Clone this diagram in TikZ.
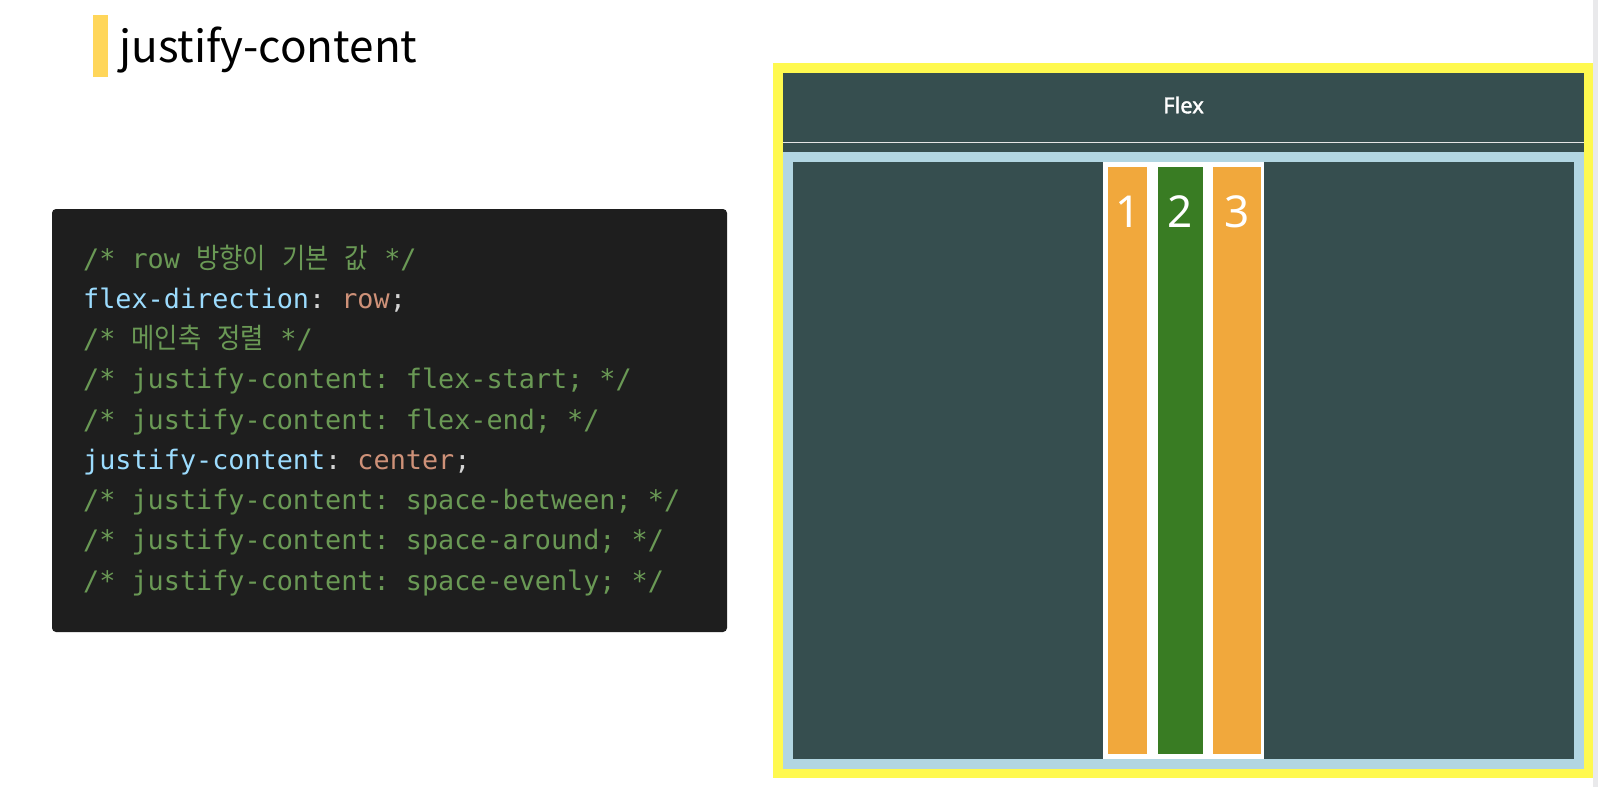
\documentclass[tikz,border=0pt]{standalone}
\usepackage{fontspec}
\setmainfont{Noto Sans}
\setmonofont{DejaVu Sans Mono}
\newfontfamily\krfont{Noto Sans CJK KR}
\newfontfamily\krmono[Scale=1.05,FakeStretch=0.9]{Noto Sans CJK KR}
\newfontfamily\headfont[FakeBold=1.6]{Noto Sans}
\usetikzlibrary{positioning}

\definecolor{panel}{HTML}{364E4F}
\definecolor{frame}{HTML}{FFF94F}
\definecolor{rowbg}{HTML}{B2D6E2}
\definecolor{itemorange}{HTML}{F1A83C}
\definecolor{itemgreen}{HTML}{397C23}
\definecolor{codebg}{HTML}{1E1E1E}
\definecolor{cmt}{HTML}{6A9955}
\definecolor{prop}{HTML}{9CDCFE}
\definecolor{val}{HTML}{CE9178}
\definecolor{punct}{HTML}{D4D4D4}
\definecolor{titlebar}{HTML}{FFD65A}
\definecolor{scroll}{HTML}{E9E9EB}

\newcommand{\hg}[1]{{\krmono #1}}

\begin{document}
\begin{tikzpicture}[x=1pt,y=-1pt,
    code line/.style={anchor=base west,inner sep=0pt,text=cmt,font=\ttfamily\fontsize{26.8}{30}\selectfont},
    item box/.style={anchor=north west,inner sep=0pt,minimum height=587pt},
    num/.style={text=white,inner sep=0pt,font=\fontsize{44}{44}\selectfont}]

    \useasboundingbox (0,0) rectangle (1598,787);
    \fill[white] (0,0) rectangle (1598,787);
    \fill[scroll] (1593,0) rectangle (1598,787);

    % title
    \fill[titlebar] (93,15) rectangle (108,77);
    \node[anchor=base west,inner sep=0pt,font=\krfont\fontsize{44}{44}\selectfont] (title) at (119,62) {justify-content};

    % code
    \fill[codebg,rounded corners=4pt] (52,209) rectangle (727,632);
    \node[code line] (l1) at (83,268) {/* row \hg{방향이} \hg{기본} \hg{값} */};
    \node[code line,below=40.25pt of l1.base west,anchor=base west] (l2) {{\color{prop}flex-direction}{\color{punct}: }{\color{val}row}{\color{punct};}};
    \node[code line,below=40.25pt of l2.base west,anchor=base west] (l3) {/* \hg{메인축} \hg{정렬} */};
    \node[code line,below=40.25pt of l3.base west,anchor=base west] (l4) {/* justify-content: flex-start; */};
    \node[code line,below=40.25pt of l4.base west,anchor=base west] (l5) {/* justify-content: flex-end; */};
    \node[code line,below=40.25pt of l5.base west,anchor=base west] (l6) {{\color{prop}justify-content}{\color{punct}: }{\color{val}center}{\color{punct};}};
    \node[code line,below=40.25pt of l6.base west,anchor=base west] (l7) {/* justify-content: space-between; */};
    \node[code line,below=40.25pt of l7.base west,anchor=base west] (l8) {/* justify-content: space-around; */};
    \node[code line,below=40.25pt of l8.base west,anchor=base west] (l9) {/* justify-content: space-evenly; */};

    % flex demo
    \fill[frame] (773,63) rectangle (1593,778);
    \fill[panel] (783,73) rectangle (1584,152);
    \draw[white!80!gray,line width=1.5pt] (783,142.5) -- (1584,142.5);
    \node[text=white,font=\headfont\fontsize{22}{22}\selectfont] (flex) at (1183.5,105) {Flex};
    \fill[rowbg] (783,152) rectangle (1584,769);
    \fill[panel] (793,162) rectangle (1574,759);
    \fill[white] (1103,162) rectangle (1264,759);

    \node[item box,fill=itemorange,minimum width=39pt] (i1) at (1108,167) {};
    \node[item box,fill=itemgreen,minimum width=45pt,right=10pt of i1.north east,anchor=north west] (i2) {};
    \node[item box,fill=itemorange,minimum width=48pt,right=10pt of i2.north east,anchor=north west] (i3) {};
    \node[num] (n1) at ([yshift=-45pt]i1.north) {1};
    \node[num] (n2) at ([yshift=-45pt]i2.north) {2};
    \node[num] (n3) at ([yshift=-45pt]i3.north) {3};
\end{tikzpicture}
\end{document}
